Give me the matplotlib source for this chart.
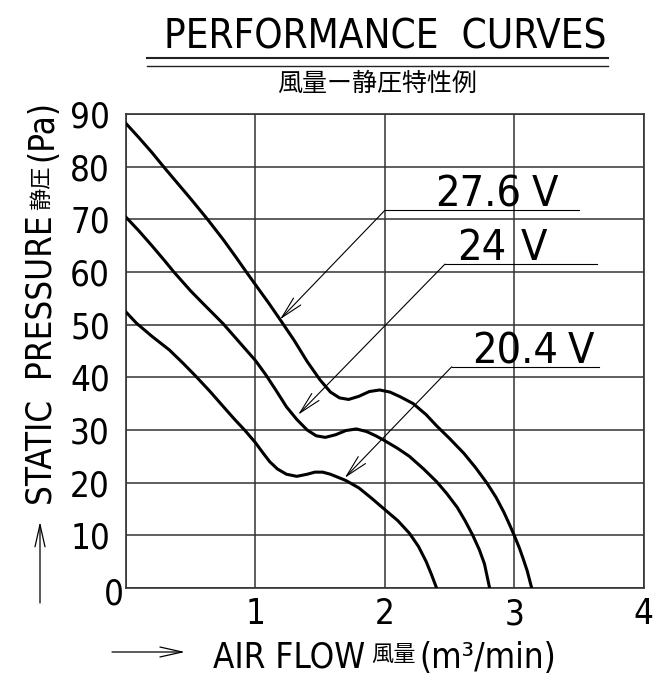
import matplotlib.pyplot as plt
from matplotlib.lines import Line2D

W, H = 668, 675

# 27.6 V curve (air flow m3/min, static pressure Pa)
flow_276 = [0.0, 0.1, 0.2, 0.29, 0.4, 0.5, 0.63, 0.75, 0.85, 0.93, 1.0, 1.1, 1.19, 1.3, 1.4, 1.5,
            1.58, 1.65, 1.72, 1.8, 1.88, 1.96, 2.04, 2.12, 2.22, 2.32, 2.4, 2.5, 2.61, 2.7, 2.79,
            2.86, 2.92, 2.97, 3.0, 3.04, 3.07, 3.1, 3.135]
pres_276 = [88.2, 85.5, 82.7, 80.0, 76.8, 73.9, 70.0, 66.2, 62.8, 60.0, 57.6, 54.2, 51.0, 47.0, 43.0, 39.5,
            37.2, 36.1, 35.8, 36.4, 37.3, 37.6, 37.2, 36.3, 35.0, 32.9, 30.8, 28.4, 25.6, 22.9, 19.9,
            17.2, 14.4, 11.7, 10.0, 7.6, 5.5, 3.3, 0.0]

# 24 V curve
flow_24 = [0.0, 0.1, 0.2, 0.3, 0.37, 0.5, 0.6, 0.75, 0.85, 1.0, 1.08, 1.16, 1.24, 1.32, 1.40, 1.47,
           1.54, 1.62, 1.70, 1.78, 1.86, 1.93, 1.99, 2.1, 2.19, 2.3, 2.40, 2.48, 2.56, 2.62, 2.68,
           2.73, 2.77, 2.81]
pres_24 = [70.4, 67.8, 65.0, 62.1, 60.0, 56.4, 53.9, 50.2, 47.4, 43.2, 40.5, 37.5, 34.4, 32.0, 30.0, 28.9,
           28.6, 29.1, 29.9, 30.2, 29.7, 28.9, 28.1, 26.5, 25.0, 22.6, 20.2, 17.9, 15.3, 12.8, 10.0,
           7.3, 4.6, 0.0]

# 20.4 V curve
flow_204 = [0.0, 0.08, 0.2, 0.335, 0.44, 0.54, 0.65, 0.75, 0.84, 0.92, 1.0, 1.06, 1.11, 1.17, 1.24, 1.32,
            1.40, 1.46, 1.52, 1.58, 1.64, 1.70, 1.8, 1.9, 1.99, 2.1, 2.19, 2.26, 2.32, 2.36, 2.40]
pres_204 = [52.4, 50.3, 47.8, 45.2, 42.7, 40.2, 37.3, 34.5, 32.0, 29.9, 27.6, 25.6, 24.0, 22.6, 21.6, 21.2,
            21.6, 22.0, 22.0, 21.6, 21.0, 20.4, 19.0, 17.0, 15.1, 12.8, 10.4, 7.9, 5.0, 2.6, 0.0]

volt_labels = ['27.6', '24', '20.4']
x_ticks = [0, 1, 2, 3, 4]
y_ticks = [0, 10, 20, 30, 40, 50, 60, 70, 80, 90]

# where each voltage callout sits (data coords)
arrow_tip = [(1.19, 51.0), (1.33, 32.9), (1.69, 20.9)]
elbow = [(2.0, 71.7), (2.465, 61.5), (2.517, 42.0)]
leader_end = [3.50, 3.64, 3.655]
num_x = [2.388, 2.558, 2.674]
v_x = [3.137, 3.05, 3.416]
text_y = [72.5, 62.2, 42.7]

lat = dict(family=['DejaVu Sans'], stretch='condensed', weight='light')
font_cjk = ['Noto Sans CJK JP', 'DejaVu Sans']
grid_c = '#333333'

fig = plt.figure(figsize=(W / 100, H / 100), dpi=100)
ax = fig.add_axes([126 / W, 1 - 588 / H, (643.6 - 126) / W, (588 - 114) / H])
ax.set_xlim(0, 4)
ax.set_ylim(0, 90)

for f, p in [(flow_276, pres_276), (flow_24, pres_24), (flow_204, pres_204)]:
    ax.plot(f, p, color='black', lw=2.2, solid_joinstyle='round', zorder=3)

ax.set_xticks(x_ticks, labels=[''] + [str(t) for t in x_ticks[1:]], fontsize=25, **lat)
ax.set_yticks(y_ticks, labels=[''] + [str(t) for t in y_ticks[1:]], fontsize=25, **lat)
ax.tick_params(axis='both', length=0)
ax.tick_params(axis='x', pad=6.5)
ax.tick_params(axis='y', pad=11.5)
ax.grid(True, color=grid_c, lw=1.1)
for s in ax.spines.values():
    s.set_color(grid_c)
    s.set_linewidth(1.2)
ax.annotate('0', xy=(0, 0), xytext=(-9, -5), textcoords='offset points',
            ha='center', va='center', fontsize=25, **lat)

# voltage callouts
for i, v in enumerate(volt_labels):
    ex, ey = elbow[i]
    ax.plot([ex, leader_end[i]], [ey, ey], color='black', lw=0.8, zorder=4)
    ax.annotate('', xy=arrow_tip[i], xytext=elbow[i],
                arrowprops=dict(arrowstyle='->,head_length=0.8,head_width=0.18', mutation_scale=20,
                                lw=0.8, color='black', shrinkA=0, shrinkB=0), zorder=4)
    ax.text(num_x[i], text_y[i], v, fontsize=31, va='baseline', ha='left', **lat)
    ax.text(v_x[i], text_y[i], 'V', fontsize=31, va='baseline', ha='left', **lat)

# title block
fig.text(385 / W, 1 - 48.3 / H, 'PERFORMANCE  CURVES', ha='center', va='baseline',
         fontsize=29, **lat)
fig.add_artist(Line2D([146.7 / W, 608 / W], [1 - 58.3 / H] * 2, lw=1.5, color='#222222'))
fig.add_artist(Line2D([146.7 / W, 608 / W], [1 - 65.7 / H] * 2, lw=1.0, color='#222222'))
fig.text(377 / W, 1 - 84 / H, '風量ー静圧特性例', ha='center', va='center', fontsize=18, family=font_cjk)

# x label with arrow
arr = dict(arrowstyle='->,head_length=0.8,head_width=0.18', mutation_scale=20, lw=0.9,
           color='black', shrinkA=0, shrinkB=0)
fig.add_artist(plt.Annotation('', xy=(185, H - 652), xytext=(112, H - 652),
                              xycoords='figure pixels', arrowprops=arr))
t1 = fig.text(213 / W, 1 - 668 / H, 'AIR FLOW', ha='left', va='baseline', fontsize=25, **lat)
t2 = fig.add_artist(plt.Annotation('風量', xy=(1, H - 661), xycoords=(t1, 'figure pixels'),
                                   xytext=(6, 0), textcoords='offset pixels',
                                   ha='left', va='baseline', fontsize=16, family=font_cjk))
fig.add_artist(plt.Annotation('(m³/min)', xy=(1, H - 668), xycoords=(t2, 'figure pixels'),
                              xytext=(4, 0), textcoords='offset pixels',
                              ha='left', va='baseline', fontsize=25, **lat))

# y label with arrow
fig.add_artist(plt.Annotation('', xy=(40, H - 521.7), xytext=(40, H - 603),
                              xycoords='figure pixels', arrowprops=arr))
y1 = fig.text(52 / W, 1 - 505 / H, 'STATIC  PRESSURE', rotation=90, rotation_mode='anchor',
              ha='left', va='baseline', fontsize=25, **lat)
y2 = fig.add_artist(plt.Annotation('静圧', xy=(48, 1), xycoords=('figure pixels', y1),
                                   xytext=(0, 5), textcoords='offset pixels', rotation=90,
                                   rotation_mode='anchor', ha='left', va='baseline',
                                   fontsize=16, family=font_cjk))
fig.add_artist(plt.Annotation('(Pa)', xy=(52, 1), xycoords=('figure pixels', y2),
                              xytext=(0, 5), textcoords='offset pixels', rotation=90,
                              rotation_mode='anchor', ha='left', va='baseline',
                              fontsize=25, **lat))

fig.savefig('out.png', dpi=100)
